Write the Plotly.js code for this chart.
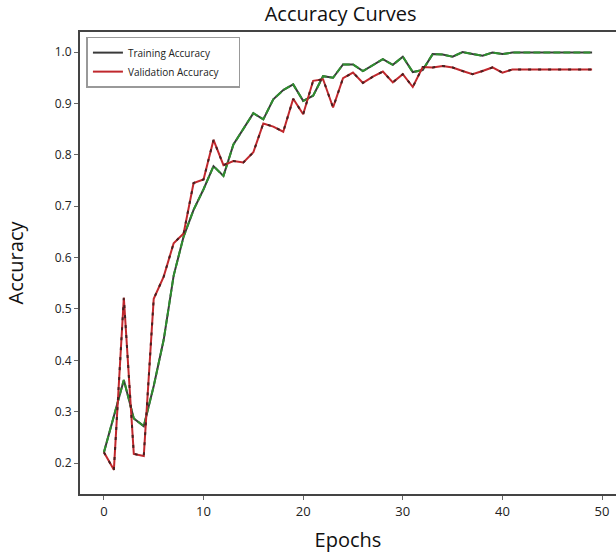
<!DOCTYPE html>
<html>
<head>
<meta charset="utf-8">
<script src="https://cdn.plot.ly/plotly-3.0.1.min.js"></script>
<style>html,body{margin:0;padding:0;background:#fff;}#chart{width:616px;height:556px;}</style>
</head>
<body>
<div id="chart"></div>
<script>
const epochs = [0,1,2,3,4,5,6,7,8,9,10,11,12,13,14,15,16,17,18,19,20,21,22,23,24,25,26,27,28,29,30,31,32,33,34,35,36,37,38,39,40,41,42,43,44,45,46,47,48,49];
const trainingAccuracy = [0.221,0.29,0.362,0.287,0.272,0.35,0.44,0.565,0.641,0.693,0.733,0.778,0.759,0.82,0.85,0.881,0.869,0.908,0.926,0.937,0.905,0.915,0.953,0.95,0.976,0.976,0.963,0.975,0.986,0.975,0.991,0.961,0.965,0.996,0.995,0.991,1.0,0.996,0.993,0.999,0.996,0.999,0.999,0.999,0.999,0.999,0.999,0.999,0.999,0.999];
const validationAccuracy = [0.221,0.187,0.522,0.218,0.214,0.52,0.563,0.628,0.647,0.745,0.752,0.829,0.78,0.788,0.785,0.805,0.861,0.855,0.845,0.909,0.879,0.944,0.947,0.892,0.949,0.96,0.94,0.952,0.962,0.941,0.957,0.932,0.971,0.97,0.973,0.97,0.963,0.957,0.963,0.97,0.96,0.966,0.966,0.966,0.966,0.966,0.966,0.966,0.966,0.966];
const xTicks = [0,10,20,30,40,50];
const yTicks = [0.2,0.3,0.4,0.5,0.6,0.7,0.8,0.9,1.0];

const F = '"Open Sans", "Noto Sans", sans-serif';
const traces = [
  {x: epochs, y: trainingAccuracy, mode: 'lines', name: 'Training Accuracy\u00a0\u00a0\u00a0\u00a0\u00a0\u00a0\u00a0\u00a0\u00a0',
   line: {color: '#3a3a3a', width: 2}},
  {x: epochs, y: trainingAccuracy, mode: 'lines', showlegend: false, hoverinfo: 'skip',
   line: {color: '#2f8f2f', width: 2, dash: '7px,3px'}},
  {x: epochs, y: validationAccuracy, mode: 'lines', name: 'Validation Accuracy',
   line: {color: '#c0282d', width: 2}},
  {x: epochs, y: validationAccuracy, mode: 'lines', showlegend: false, hoverinfo: 'skip',
   line: {color: '#4a2020', width: 2, dash: '3px,7px'}}
];
const layout = {
  width: 616, height: 556,
  margin: {l: 80, r: 0, t: 32, b: 62},
  paper_bgcolor: '#fff', plot_bgcolor: '#fff',
  font: {family: F, color: '#222'},
  title: {text: 'Accuracy Curves', font: {family: F, size: 20, color: '#111'},
          x: 0.553, xanchor: 'center', y: 0.975, yanchor: 'middle', xref: 'container', yref: 'container'},
  xaxis: {range: [-2.4, 51.4], tickvals: xTicks, ticktext: xTicks.map(String),
          showgrid: false, zeroline: false, showline: true, linecolor: '#444', linewidth: 2,
          mirror: true, ticks: 'outside', ticklen: 4, tickcolor: '#666', tickwidth: 1,
          tickfont: {family: F, size: 13, color: '#222'},
          title: {text: 'Epochs', font: {family: F, size: 20, color: '#111'}, standoff: 14}},
  yaxis: {range: [0.14, 1.039], tickvals: yTicks, ticktext: yTicks.map(v => v.toFixed(1)),
          showgrid: false, zeroline: false, showline: true, linecolor: '#444', linewidth: 2,
          ticks: 'outside', ticklen: 4, tickcolor: '#666', tickwidth: 1,
          tickfont: {family: F, size: 12, color: '#222'},
          title: {text: 'Accuracy', font: {family: F, size: 20, color: '#111'}, standoff: 26}},
  legend: {x: 0.012, y: 0.99, xanchor: 'left', yanchor: 'top',
           bgcolor: '#fff', bordercolor: '#999', borderwidth: 1.5,
           font: {family: F, size: 10, color: '#222'}, tracegroupgap: 0, itemwidth: 30},
  showlegend: true
};
Plotly.newPlot('chart', traces, layout, {displayModeBar: false, staticPlot: true});
</script>
</body>
</html>
